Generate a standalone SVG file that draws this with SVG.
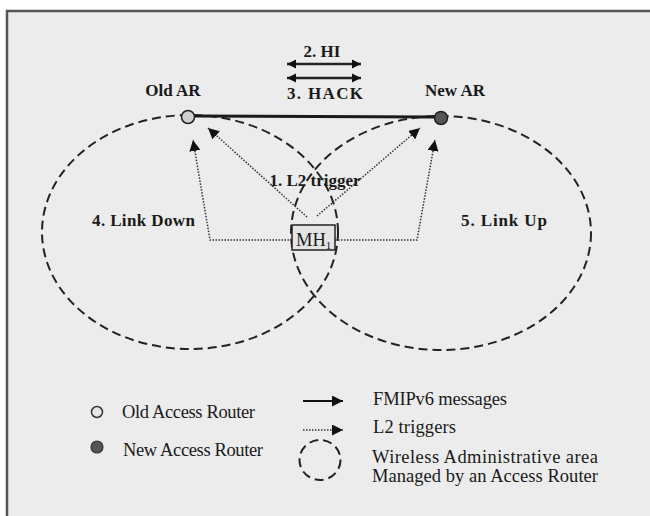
<svg xmlns="http://www.w3.org/2000/svg" width="650" height="516" viewBox="0 0 650 516">
  <style>
    .bold { font-family: "Liberation Serif", "Times New Roman", serif; font-weight: bold; font-size: 17px; fill: #1a1a1a; }
    .reg { font-family: "Liberation Serif", "Times New Roman", serif; font-size: 18.5px; fill: #1a1a1a; }
    .cell { fill: none; stroke: #222; stroke-width: 2; stroke-dasharray: 9 5; }
    .msg { fill: none; stroke: #222; stroke-width: 2.5; }
    .trig { fill: none; stroke: #333; stroke-width: 1.5; stroke-dasharray: 1.5 1.5; }
  </style>
  <defs>
    <marker id="head" viewBox="0 0 10 10" refX="10" refY="5" markerUnits="userSpaceOnUse" markerWidth="9" markerHeight="10" orient="auto-start-reverse">
      <path d="M0,0 L10,5 L0,10 z" fill="#111"/>
    </marker>
    <marker id="thead" viewBox="0 0 10 10" refX="10" refY="5" markerUnits="userSpaceOnUse" markerWidth="11" markerHeight="11" orient="auto">
      <path d="M0,0 L10,5 L0,10 z" fill="#111"/>
    </marker>
  </defs>

  <!-- page frame -->
  <rect x="0" y="0" width="650" height="516" fill="#ffffff"/>
  <rect x="6" y="11" width="644" height="505" fill="#ececec"/>
  <path d="M7,516 V11 H650" fill="none" stroke="#555" stroke-width="2.5"/>

  <!-- coverage areas of the two access routers -->
  <g id="cells">
    <ellipse id="cell-old" class="cell" cx="190" cy="232" rx="148" ry="117"/>
    <ellipse id="cell-new" class="cell" cx="441" cy="233" rx="150" ry="117"/>
  </g>

  <g id="connectors">
    <!-- wired link between routers -->
    <line x1="194" y1="116" x2="435" y2="117" stroke="#1a1a1a" stroke-width="3"/>
    <!-- HI / HACK exchange -->
    <line class="msg" x1="287" y1="64" x2="361" y2="64" marker-start="url(#head)" marker-end="url(#head)"/>
    <line class="msg" x1="287" y1="78" x2="361" y2="78" marker-start="url(#head)" marker-end="url(#head)"/>
    <!-- L2 triggers from the mobile host -->
    <polyline class="trig" points="292,240 210,240 193,140" marker-end="url(#thead)"/>
    <line class="trig" x1="307" y1="217" x2="208" y2="128" marker-end="url(#thead)"/>
    <line class="trig" x1="317" y1="216" x2="420" y2="128" marker-end="url(#thead)"/>
    <polyline class="trig" points="335,240 417,240 435,140" marker-end="url(#thead)"/>
  </g>

  <g id="old-ar">
    <circle cx="188" cy="117" r="6.5" fill="#cfcfcf" stroke="#222" stroke-width="1.5"/>
    <text class="bold" x="173" y="96" text-anchor="middle">Old AR</text>
  </g>
  <g id="new-ar">
    <circle cx="441" cy="118" r="6.5" fill="#555" stroke="#222" stroke-width="1.5"/>
    <text class="bold" x="455" y="96" text-anchor="middle">New AR</text>
  </g>

  <g id="mh">
    <rect x="292" y="225" width="43" height="25" fill="#e4e4e4" stroke="#222" stroke-width="1.5"/>
    <text class="reg" x="296" y="246" font-size="18px">MH<tspan font-size="11px" dy="3">1</tspan></text>
  </g>

  <g id="labels">
    <text class="bold" x="322" y="57" text-anchor="middle">2. HI</text>
    <text class="bold" x="325" y="99" text-anchor="middle" textLength="76" lengthAdjust="spacing">3. HACK</text>
    <text class="bold" x="315" y="186" text-anchor="middle">1. L2 trigger</text>
    <text class="bold" x="92" y="226" textLength="103" lengthAdjust="spacing">4. Link Down</text>
    <text class="bold" x="461" y="226" textLength="86" lengthAdjust="spacing">5. Link Up</text>
  </g>

  <g id="legend">
    <circle cx="97" cy="412" r="5.5" fill="#e6e6e6" stroke="#333" stroke-width="1.5"/>
    <text class="reg" x="122" y="418" textLength="133" lengthAdjust="spacing">Old Access Router</text>
    <circle cx="97" cy="447" r="6" fill="#555" stroke="#333" stroke-width="1.2"/>
    <text class="reg" x="123" y="456" textLength="140" lengthAdjust="spacing">New Access Router</text>

    <line x1="303" y1="401" x2="343" y2="401" stroke="#111" stroke-width="2" marker-end="url(#thead)"/>
    <text class="reg" x="373" y="405" textLength="134" lengthAdjust="spacing">FMIPv6 messages</text>
    <line class="trig" x1="303" y1="430" x2="343" y2="430" marker-end="url(#thead)"/>
    <text class="reg" x="373" y="433" textLength="83" lengthAdjust="spacing">L2 triggers</text>
    <ellipse class="cell" cx="320" cy="460" rx="20.5" ry="20"/>
    <text class="reg" x="372" y="463" textLength="226" lengthAdjust="spacing">Wireless Administrative area</text>
    <text class="reg" x="372" y="482" textLength="226" lengthAdjust="spacing">Managed by an Access Router</text>
  </g>
</svg>
